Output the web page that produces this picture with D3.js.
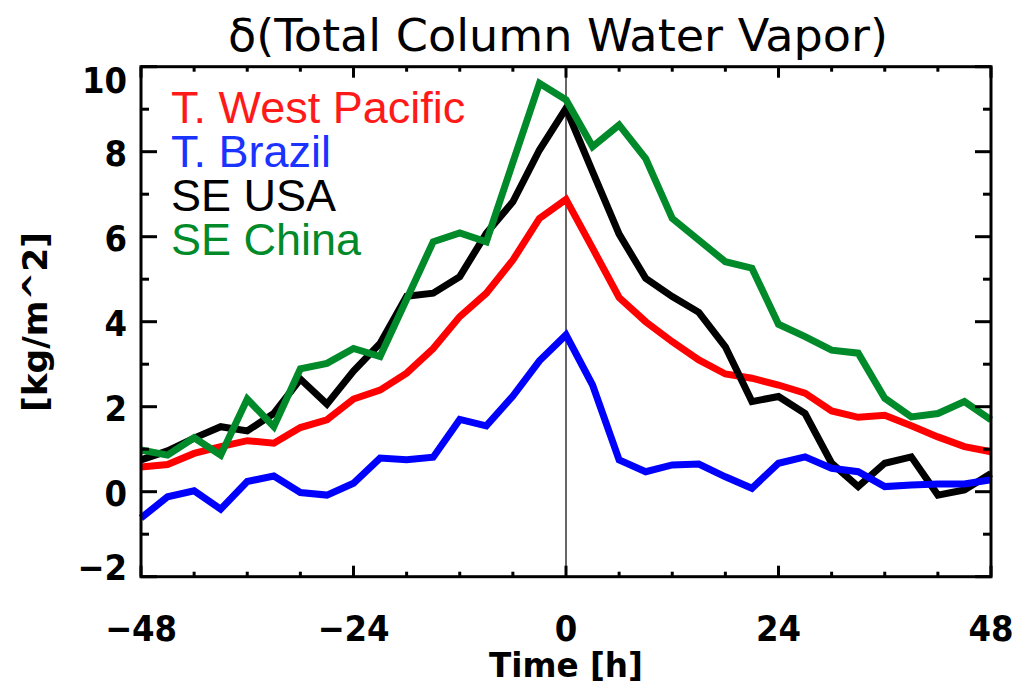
<!DOCTYPE html>
<html>
<head>
<meta charset="utf-8">
<script src="https://cdn.jsdelivr.net/npm/d3@7"></script>
<style>
  html, body { margin: 0; padding: 0; background: #fff; }
  svg { display: block; }
</style>
</head>
<body>
<svg id="chart" width="1018" height="690"></svg>
<script>
// Composite anomaly of total column water vapor around the event time (every 3 h)
const hours = [-48, -45, -42, -39, -36, -33, -30, -27, -24, -21, -18, -15, -12, -9, -6, -3,
               0, 3, 6, 9, 12, 15, 18, 21, 24, 27, 30, 33, 36, 39, 42, 45, 48];

const westPacific = [0.58, 0.64, 0.90, 1.06, 1.20, 1.14, 1.51, 1.69, 2.18, 2.39, 2.79, 3.37, 4.12, 4.67, 5.45, 6.43,
                     6.88, 5.73, 4.57, 4.00, 3.53, 3.10, 2.77, 2.67, 2.51, 2.32, 1.90, 1.75, 1.80, 1.55, 1.29, 1.06, 0.94];
const brazil      = [-0.62, -0.12, 0.02, -0.41, 0.24, 0.37, -0.02, -0.08, 0.20, 0.79, 0.75, 0.81, 1.70, 1.55, 2.25, 3.08,
                     3.69, 2.51, 0.75, 0.47, 0.63, 0.65, 0.35, 0.08, 0.67, 0.82, 0.55, 0.47, 0.12, 0.16, 0.18, 0.18, 0.28];
const seUSA       = [0.75, 0.96, 1.26, 1.53, 1.43, 1.84, 2.65, 2.06, 2.84, 3.49, 4.60, 4.67, 5.06, 6.08, 6.82, 8.04,
                     9.02, 7.53, 6.06, 5.02, 4.59, 4.22, 3.41, 2.12, 2.24, 1.84, 0.67, 0.12, 0.67, 0.82, -0.08, 0.04, 0.43];
const seChina     = [0.98, 0.86, 1.27, 0.86, 2.18, 1.53, 2.89, 3.02, 3.37, 3.18, 4.53, 5.88, 6.09, 5.88, 7.75, 9.61,
                     9.22, 8.12, 8.63, 7.84, 6.43, 5.92, 5.41, 5.26, 3.94, 3.65, 3.33, 3.26, 2.20, 1.76, 1.84, 2.12, 1.69];

const seriesNames  = ["T. West Pacific", "T. Brazil", "SE USA", "SE China"];
const seriesColors = ["#ff0000", "#0000ff", "#000000", "#008a2a"];
const legendColors = ["#ff1a1a", "#1a33ff", "#000000", "#008a2a"];
const seriesValues = [westPacific, brazil, seUSA, seChina];
const drawOrder    = [0, 2, 1, 3];

const xMajorTicks = [-48, -24, 0, 24, 48];
const xMinorTicks = [-42, -36, -30, -18, -12, -6, 6, 12, 18, 30, 36, 42];
const yMajorTicks = [-2, 0, 2, 4, 6, 8, 10];
const yMinorTicks = [-1, 1, 3, 5, 7, 9];

const titleText = "\u03b4(Total Column Water Vapor)";
const xTitle = "Time [h]";
const yTitle = "[kg/m^2]";

const svg = d3.select("#chart");
const plotLeft = 141, plotRight = 991, plotTop = 66.7, plotBottom = 576.7;

const x = d3.scaleLinear().domain([-48, 48]).range([plotLeft, plotRight]);
const y = d3.scaleLinear().domain([-2, 10]).range([plotBottom, plotTop]);

const tickFont = "'DejaVu Sans Condensed', 'DejaVu Sans', sans-serif";

// Vertical reference line at t = 0
svg.append("line")
  .attr("x1", x(0)).attr("x2", x(0))
  .attr("y1", plotTop).attr("y2", plotBottom)
  .attr("stroke", "#000").attr("stroke-width", 1.2);

// Series lines
const line = d3.line().x((d, i) => x(hours[i])).y(d => y(d));
const lines = svg.append("g").attr("fill", "none").attr("stroke-linejoin", "miter").attr("stroke-linecap", "butt");
drawOrder.forEach(k => {
  lines.append("path")
    .attr("d", line(seriesValues[k]))
    .attr("stroke", seriesColors[k])
    .attr("stroke-width", 7);
});

// Frame
svg.append("rect")
  .attr("x", plotLeft).attr("y", plotTop)
  .attr("width", plotRight - plotLeft).attr("height", plotBottom - plotTop)
  .attr("fill", "none").attr("stroke", "#000").attr("stroke-width", 3);

// Ticks (pointing inward on all four sides)
const ticks = svg.append("g").attr("stroke", "#000").attr("stroke-width", 3);
const xt = (vals, len) => vals.forEach(v => {
  ticks.append("line").attr("x1", x(v)).attr("x2", x(v)).attr("y1", plotBottom).attr("y2", plotBottom - len);
  ticks.append("line").attr("x1", x(v)).attr("x2", x(v)).attr("y1", plotTop).attr("y2", plotTop + len);
});
const yt = (vals, len) => vals.forEach(v => {
  ticks.append("line").attr("y1", y(v)).attr("y2", y(v)).attr("x1", plotLeft).attr("x2", plotLeft + len);
  ticks.append("line").attr("y1", y(v)).attr("y2", y(v)).attr("x1", plotRight).attr("x2", plotRight - len);
});
xt(xMajorTicks, 11);
xt(xMinorTicks, 5);
yt(yMajorTicks, 16);
yt(yMinorTicks, 8);

// Tick labels
const fmt = v => (v < 0 ? "\u2212" : "") + Math.abs(v);
svg.append("g").selectAll("text").data(yMajorTicks).join("text")
  .attr("x", 127)
  .attr("y", d => y(d) + (d === 10 ? 13 : d === -2 ? -10 : 1))
  .attr("dy", "0.36em")
  .attr("text-anchor", "end")
  .attr("font-family", tickFont).attr("font-weight", "bold").attr("font-size", 36)
  .text(fmt);

svg.append("g").selectAll("text").data(xMajorTicks).join("text")
  .attr("x", d => x(d))
  .attr("y", 641)
  .attr("text-anchor", "middle")
  .attr("font-family", tickFont).attr("font-weight", "bold").attr("font-size", 36)
  .text(fmt);

// Titles
svg.append("text")
  .attr("x", 558).attr("y", 51)
  .attr("text-anchor", "middle")
  .attr("font-family", tickFont).attr("font-size", 44)
  .attr("textLength", 660).attr("lengthAdjust", "spacingAndGlyphs")
  .text(titleText);

svg.append("text")
  .attr("x", 566).attr("y", 677)
  .attr("text-anchor", "middle")
  .attr("font-family", tickFont).attr("font-weight", "bold").attr("font-size", 34)
  .attr("textLength", 154).attr("lengthAdjust", "spacingAndGlyphs")
  .text(xTitle);

svg.append("text")
  .attr("transform", "translate(47,322) rotate(-90)")
  .attr("text-anchor", "middle")
  .attr("font-family", tickFont).attr("font-weight", "bold").attr("font-size", 34)
  .attr("textLength", 180).attr("lengthAdjust", "spacingAndGlyphs")
  .text(yTitle);

// Legend (colored labels)
svg.append("g").selectAll("text").data(seriesNames).join("text")
  .attr("x", 171)
  .attr("y", (d, i) => 123 + i * 44)
  .attr("font-family", "'Liberation Sans', Arial, sans-serif")
  .attr("font-size", 45)
  .attr("fill", (d, i) => legendColors[i])
  .text(d => d);
</script>
</body>
</html>
